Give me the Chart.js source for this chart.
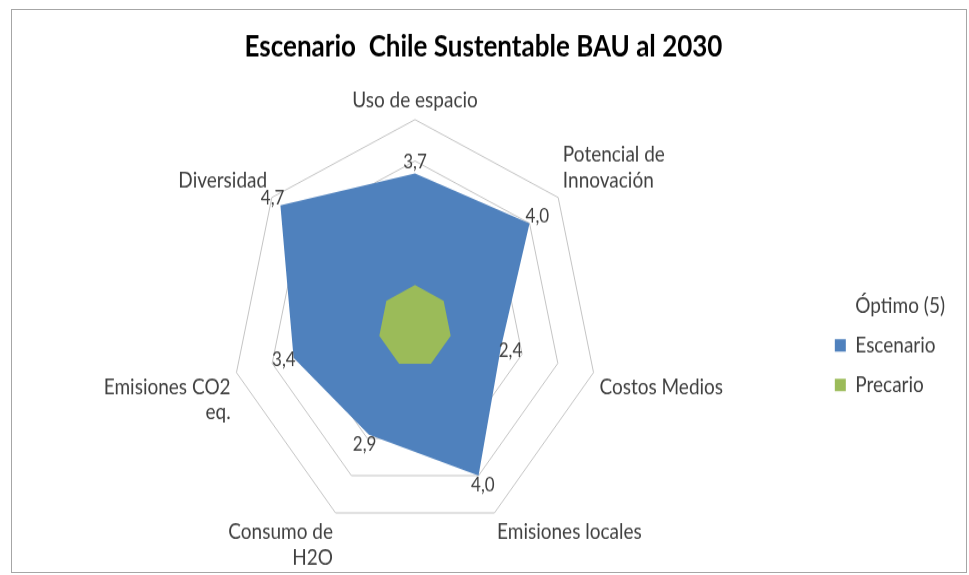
<!DOCTYPE html>
<html>
<head>
<meta charset="utf-8">
<script src="https://cdn.jsdelivr.net/npm/chart.js@4/dist/chart.umd.min.js"></script>
<style>
html, body { margin: 0; padding: 0; background: #fff; }
#frame { position: absolute; left: 11px; top: 9px; width: 956px; height: 564px; border: 1px solid #a6a6a6; box-sizing: border-box; }
#wrap { position: absolute; left: 0; top: 0; width: 969px; height: 509px; transform: scaleY(1.1297); transform-origin: 0 0; }
</style>
</head>
<body>
<div id="frame"></div>
<div id="wrap"><canvas id="myChart" width="969" height="509"></canvas></div>
<script>
const ejes = [
    'Uso de espacio',
    ['Potencial de', 'Innovación'],
    'Costos Medios',
    'Emisiones locales',
    ['Consumo de', 'H2O'],
    ['Emisiones CO2', 'eq.'],
    'Diversidad'
]
const optimo = [5, 5, 5, 5, 5, 5, 5]
const escenario = [3.7, 4.0, 2.4, 4.0, 2.9, 3.4, 4.7]
const precario = [1, 1, 1, 1, 1, 1, 1]

const ctx = document.getElementById('myChart').getContext('2d');

// etiquetas de valor del escenario, al estilo excel "3,7"
const valueLabels = {
    id: 'valueLabels',
    afterDatasetsDraw(chart) {
        const r = chart.scales.r
        const c = chart.ctx
        c.save()
        c.font = '17px Lato'
        c.fillStyle = '#404040'
        c.textAlign = 'center'
        c.textBaseline = 'middle'
        escenario.forEach((v, i) => {
            const p = r.getPointPosition(i, r.getDistanceFromCenterForValue(v) + 10)
            c.fillText(v.toFixed(1).replace('.', ','), p.x, p.y)
        })
        c.restore()
    }
}

const myChart = new Chart(ctx, {
    type: 'radar',
    data: {
        labels: ejes,
        datasets: [{
            label: 'Precario',
            data: precario,
            backgroundColor: '#9bbb59',
            borderWidth: 0,
            pointRadius: 0
        }, {
            label: 'Escenario',
            data: escenario,
            backgroundColor: '#4f81bd',
            borderWidth: 0,
            pointRadius: 0
        }, {
            label: 'Óptimo (5)',
            data: optimo,
            backgroundColor: 'rgba(255,255,255,0)',
            borderColor: 'rgba(255,255,255,0)',
            borderWidth: 0,
            pointRadius: 0
        }]
    },
    options: {
        responsive: false,
        animation: false,
        layout: { padding: { left: 12, right: 14, bottom: 2 } },
        elements: { line: { tension: 0 } },
        scales: {
            r: {
                min: 0,
                max: 5,
                ticks: { stepSize: 1, display: false },
                angleLines: { display: false },
                grid: { color: '#c4c4c4', lineWidth: 1 },
                pointLabels: {
                    font: { family: 'Lato', size: 19 },
                    color: '#404040',
                    padding: 6
                }
            }
        },
        plugins: {
            title: {
                display: true,
                text: 'Escenario  Chile Sustentable BAU al 2030',
                font: { family: 'Lato', size: 26, weight: 'bold' },
                color: '#000',
                padding: { top: 26, bottom: 18 }
            },
            legend: {
                position: 'right',
                reverse: true,
                title: { display: true, text: '', padding: { top: 90, bottom: 0 } },
                labels: {
                    font: { family: 'Lato', size: 19 },
                    color: '#404040',
                    boxWidth: 11,
                    boxHeight: 11,
                    padding: 16
                }
            },
            tooltip: { enabled: false }
        }
    },
    plugins: [valueLabels]
});
</script>
</body>
</html>
